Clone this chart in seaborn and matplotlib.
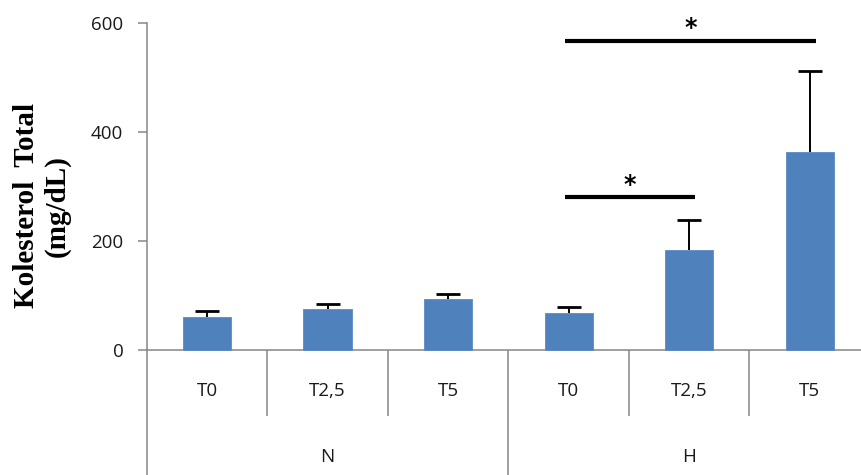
import matplotlib
matplotlib.use("Agg")
import matplotlib.pyplot as plt
import seaborn as sns
import pandas as pd
import numpy as np

# Total cholesterol (mg/dL) per group and time point
groups = ["N", "H"]
times = ["T0", "T2,5", "T5"]
n_means = [60, 76, 93]
n_errors = [12, 9, 9]
h_means = [67, 183, 362]
h_errors = [12, 56, 150]

# Significance brackets: (start bar, end bar, height)
sig_pairs = [(3, 4, 280), (3, 5, 567)]
sig_label = "*"

y_ticks = [0, 200, 400, 600]

bar_color = "#4F81BD"
axis_grey = "#868686"
text_color = "#1a1a1a"

means = n_means + h_means
errors = n_errors + h_errors
keys = [f"{g}|{t}" for g in groups for t in times]
df = pd.DataFrame({"key": keys, "value": means})

sns.set_style("white")
plt.rcParams["font.family"] = ["Open Sans", "DejaVu Sans"]

fig = plt.figure(figsize=(8.61, 4.75), dpi=100)
W, H = 861, 475
x0_px, x1_px = 146.7, 870.0
y_top_px, y_zero_px = 22.5, 350.0
px_per_unit = (y_zero_px - y_top_px) / 600.0
y_bottom = -(H - y_zero_px) / px_per_unit

ax = fig.add_axes([x0_px / W, 0, (x1_px - x0_px) / W, (H - y_top_px) / H])

sns.barplot(data=df, x="key", y="value", order=keys, color=bar_color,
            saturation=1, width=0.4, errorbar=None, ax=ax,
            edgecolor="#5B8BC4", linewidth=0.6, zorder=2)

xpos = np.arange(len(keys))
_, caps, _ = ax.errorbar(xpos, means, yerr=[np.zeros(len(errors)), errors],
                         fmt="none", ecolor="black", elinewidth=1.4,
                         capsize=8.5, capthick=2.0, zorder=3)
# keep only the upper caps
caps[0].remove()

ax.set_xlim(-0.5, len(keys) - 0.5)
ax.set_ylim(y_bottom, 600)
ax.set_xlabel("")
ax.set_ylabel("")
ax.set_xticks([])
ax.set_yticks(y_ticks)
ax.set_yticklabels([str(v) for v in y_ticks])
ax.tick_params(axis="y", direction="out", length=6.3, width=1.1, color=axis_grey,
               pad=10.5, labelsize=13.5, labelcolor=text_color, left=True)

for side in ["top", "right", "bottom"]:
    ax.spines[side].set_visible(False)
ax.spines["left"].set_color(axis_grey)
ax.spines["left"].set_linewidth(1.1)

# Category axis: baseline, separators and two-level labels
ax.axhline(0, color=axis_grey, lw=1.1, zorder=1)
short_sep = -(416 - y_zero_px) / px_per_unit
for i in range(1, len(keys)):
    x = i - 0.5
    bottom = y_bottom if i % len(times) == 0 else short_sep
    ax.vlines(x, bottom, 0, color=axis_grey, lw=1.1, zorder=1)

time_label_y = -(391 - y_zero_px) / px_per_unit
group_label_y = -(457 - y_zero_px) / px_per_unit
for i, k in enumerate(keys):
    ax.text(i, time_label_y, k.split("|")[1], ha="center", va="center",
            fontsize=13.5, color=text_color)
for j, g in enumerate(groups):
    center = j * len(times) + (len(times) - 1) / 2
    ax.text(center, group_label_y, g, ha="center", va="center",
            fontsize=13.5, color=text_color)

# Significance brackets
for a, b, yv in sig_pairs:
    ax.plot([a - 0.03, b + 0.05], [yv, yv], color="black", lw=3.0,
            solid_capstyle="butt", zorder=4)
    ax.text((a + b) / 2 + 0.01, yv + 10, sig_label, ha="center", va="baseline",
            fontsize=17, fontweight="bold", color="black", family="DejaVu Sans")

fig.text(42 / W, 1 - 206 / H, "Kolesterol  Total\n(mg/dL)", rotation=90,
         ha="center", va="center", multialignment="center",
         family="Liberation Serif", fontweight="bold", fontsize=21,
         color="black", linespacing=1.15)

fig.savefig("out.png", dpi=100)
